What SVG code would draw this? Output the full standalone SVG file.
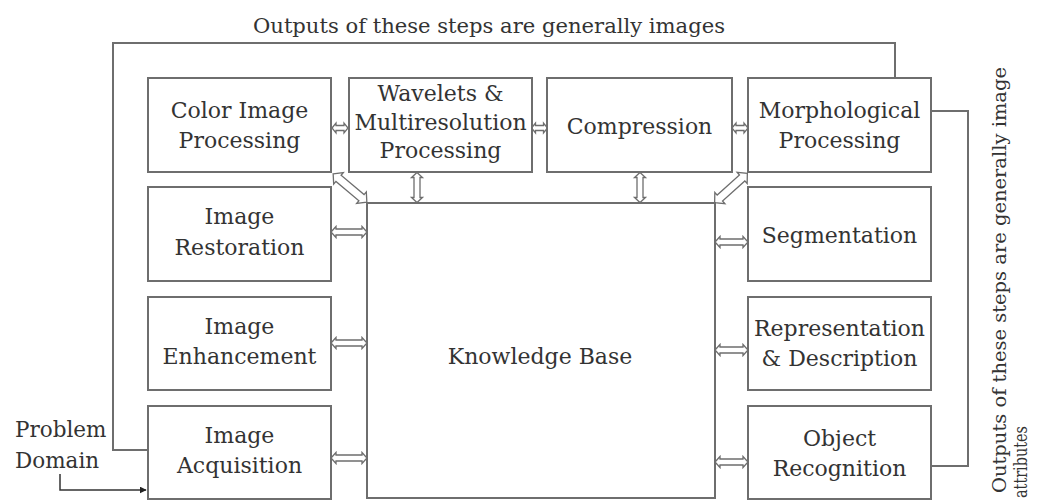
<svg xmlns="http://www.w3.org/2000/svg" xmlns:xlink="http://www.w3.org/1999/xlink" width="1041" height="500" viewBox="0 0 1041 500">
<style>
.box{fill:#fff;stroke:#6e6e6e;stroke-width:2}
.t{font-family:"DejaVu Serif","Liberation Serif",serif;font-size:22px;fill:#333;text-anchor:middle}
.tl{font-family:"DejaVu Serif","Liberation Serif",serif;font-size:21.5px;fill:#333}
.tr{font-family:"DejaVu Serif","Liberation Serif",serif;font-size:19px;fill:#333;text-anchor:middle}
.ln{fill:none;stroke:#6e6e6e;stroke-width:2}
.da{fill:#fff;stroke:#6e6e6e;stroke-width:1.3}
</style>
<defs>
<path id="h36" d="M-18,0 L-13,-5.5 L-13,-3 L13,-3 L13,-5.5 L18,0 L13,5.5 L13,3 L-13,3 L-13,5.5 Z"/>
<path id="h33" d="M-16.5,0 L-11.5,-5.5 L-11.5,-3 L11.5,-3 L11.5,-5.5 L16.5,0 L11.5,5.5 L11.5,3 L-11.5,3 L-11.5,5.5 Z"/>
<path id="h16" d="M-8,0 L-4,-5 L-4,-2.5 L4,-2.5 L4,-5 L8,0 L4,5 L4,2.5 L-4,2.5 L-4,5 Z"/>
<path id="h30" d="M-15,0 L-10,-5.5 L-10,-3 L10,-3 L10,-5.5 L15,0 L10,5.5 L10,3 L-10,3 L-10,5.5 Z"/>
<path id="h44" d="M-22,0 L-15,-7.5 L-15,-4 L15,-4 L15,-7.5 L22,0 L15,7.5 L15,4 L-15,4 L-15,7.5 Z"/>
<marker id="ah" viewBox="0 0 10 10" refX="9" refY="5" markerWidth="7" markerHeight="7" orient="auto" markerUnits="userSpaceOnUse"><path d="M0,0 L10,5 L0,10 Z" fill="#222"/></marker>
</defs>
<rect width="1041" height="500" fill="#fff"/>
<g id="connectors">
<polyline class="ln" points="148,450 113,450 113,43 895,43 895,78"/>
<polyline class="ln" points="931,111 968,111 968,466 931,466"/>
<polyline fill="none" stroke="#333" stroke-width="1.5" points="60,474 60,490 146,490" marker-end="url(#ah)"/>
<g class="da">
<use xlink:href="#h16" transform="translate(340,128)"/>
<use xlink:href="#h16" transform="translate(539.5,128)"/>
<use xlink:href="#h16" transform="translate(740,128)"/>
<use xlink:href="#h30" transform="translate(417,187.5) rotate(90)"/>
<use xlink:href="#h30" transform="translate(640,187.5) rotate(90)"/>
<use xlink:href="#h44" transform="translate(350,188) rotate(40)"/>
<use xlink:href="#h44" transform="translate(731,188) rotate(138)"/>
<use xlink:href="#h36" transform="translate(349,232)"/>
<use xlink:href="#h36" transform="translate(349,343)"/>
<use xlink:href="#h36" transform="translate(349,458)"/>
<use xlink:href="#h33" transform="translate(731.5,242)"/>
<use xlink:href="#h33" transform="translate(731.5,350)"/>
<use xlink:href="#h33" transform="translate(731.5,462)"/>
</g>
</g>
<g id="kb"><rect class="box" x="367" y="203" width="348" height="295"/><text class="t" x="540" y="364">Knowledge Base</text></g>
<g id="color"><rect class="box" x="148" y="78" width="183" height="94"/><text class="t" x="239.5" y="118">Color Image</text><text class="t" x="239.5" y="148">Processing</text></g>
<g id="wavelets"><rect class="box" x="349" y="78" width="183" height="94"/><text class="t" x="440.5" y="101">Wavelets &amp;</text><text class="t" x="440.5" y="130">Multiresolution</text><text class="t" x="440.5" y="158">Processing</text></g>
<g id="compression"><rect class="box" x="547" y="78" width="185" height="94"/><text class="t" x="639.5" y="134">Compression</text></g>
<g id="morph"><rect class="box" x="748" y="78" width="183" height="94"/><text class="t" x="839.5" y="118">Morphological</text><text class="t" x="839.5" y="148">Processing</text></g>
<g id="restoration"><rect class="box" x="148" y="187" width="183" height="94"/><text class="t" x="239.5" y="224">Image</text><text class="t" x="239.5" y="255">Restoration</text></g>
<g id="enhancement"><rect class="box" x="148" y="297" width="183" height="93"/><text class="t" x="239.5" y="334">Image</text><text class="t" x="239.5" y="364">Enhancement</text></g>
<g id="acquisition"><rect class="box" x="148" y="406" width="183" height="93"/><text class="t" x="239.5" y="443">Image</text><text class="t" x="239.5" y="473">Acquisition</text></g>
<g id="segmentation"><rect class="box" x="748" y="187" width="183" height="94"/><text class="t" x="839.5" y="243">Segmentation</text></g>
<g id="representation"><rect class="box" x="748" y="297" width="183" height="93"/><text class="t" x="839.5" y="336">Representation</text><text class="t" x="839.5" y="366">&amp; Description</text></g>
<g id="recognition"><rect class="box" x="748" y="406" width="183" height="93"/><text class="t" x="839.5" y="446">Object</text><text class="t" x="839.5" y="476">Recognition</text></g>
<g id="labels">
<text class="t" x="489" y="33" style="font-size:21px" textLength="472" lengthAdjust="spacingAndGlyphs">Outputs of these steps are generally images</text>
<text class="tl" x="15" y="437">Problem</text>
<text class="tl" x="15" y="468">Domain</text>
<text class="tr" transform="translate(1006,280) rotate(-90)" textLength="426" lengthAdjust="spacingAndGlyphs">Outputs of these steps are generally image</text>
<text class="tr" transform="translate(1027,462) rotate(-90)" style="font-size:18px" textLength="72" lengthAdjust="spacingAndGlyphs">attributes</text>
</g>
</svg>
